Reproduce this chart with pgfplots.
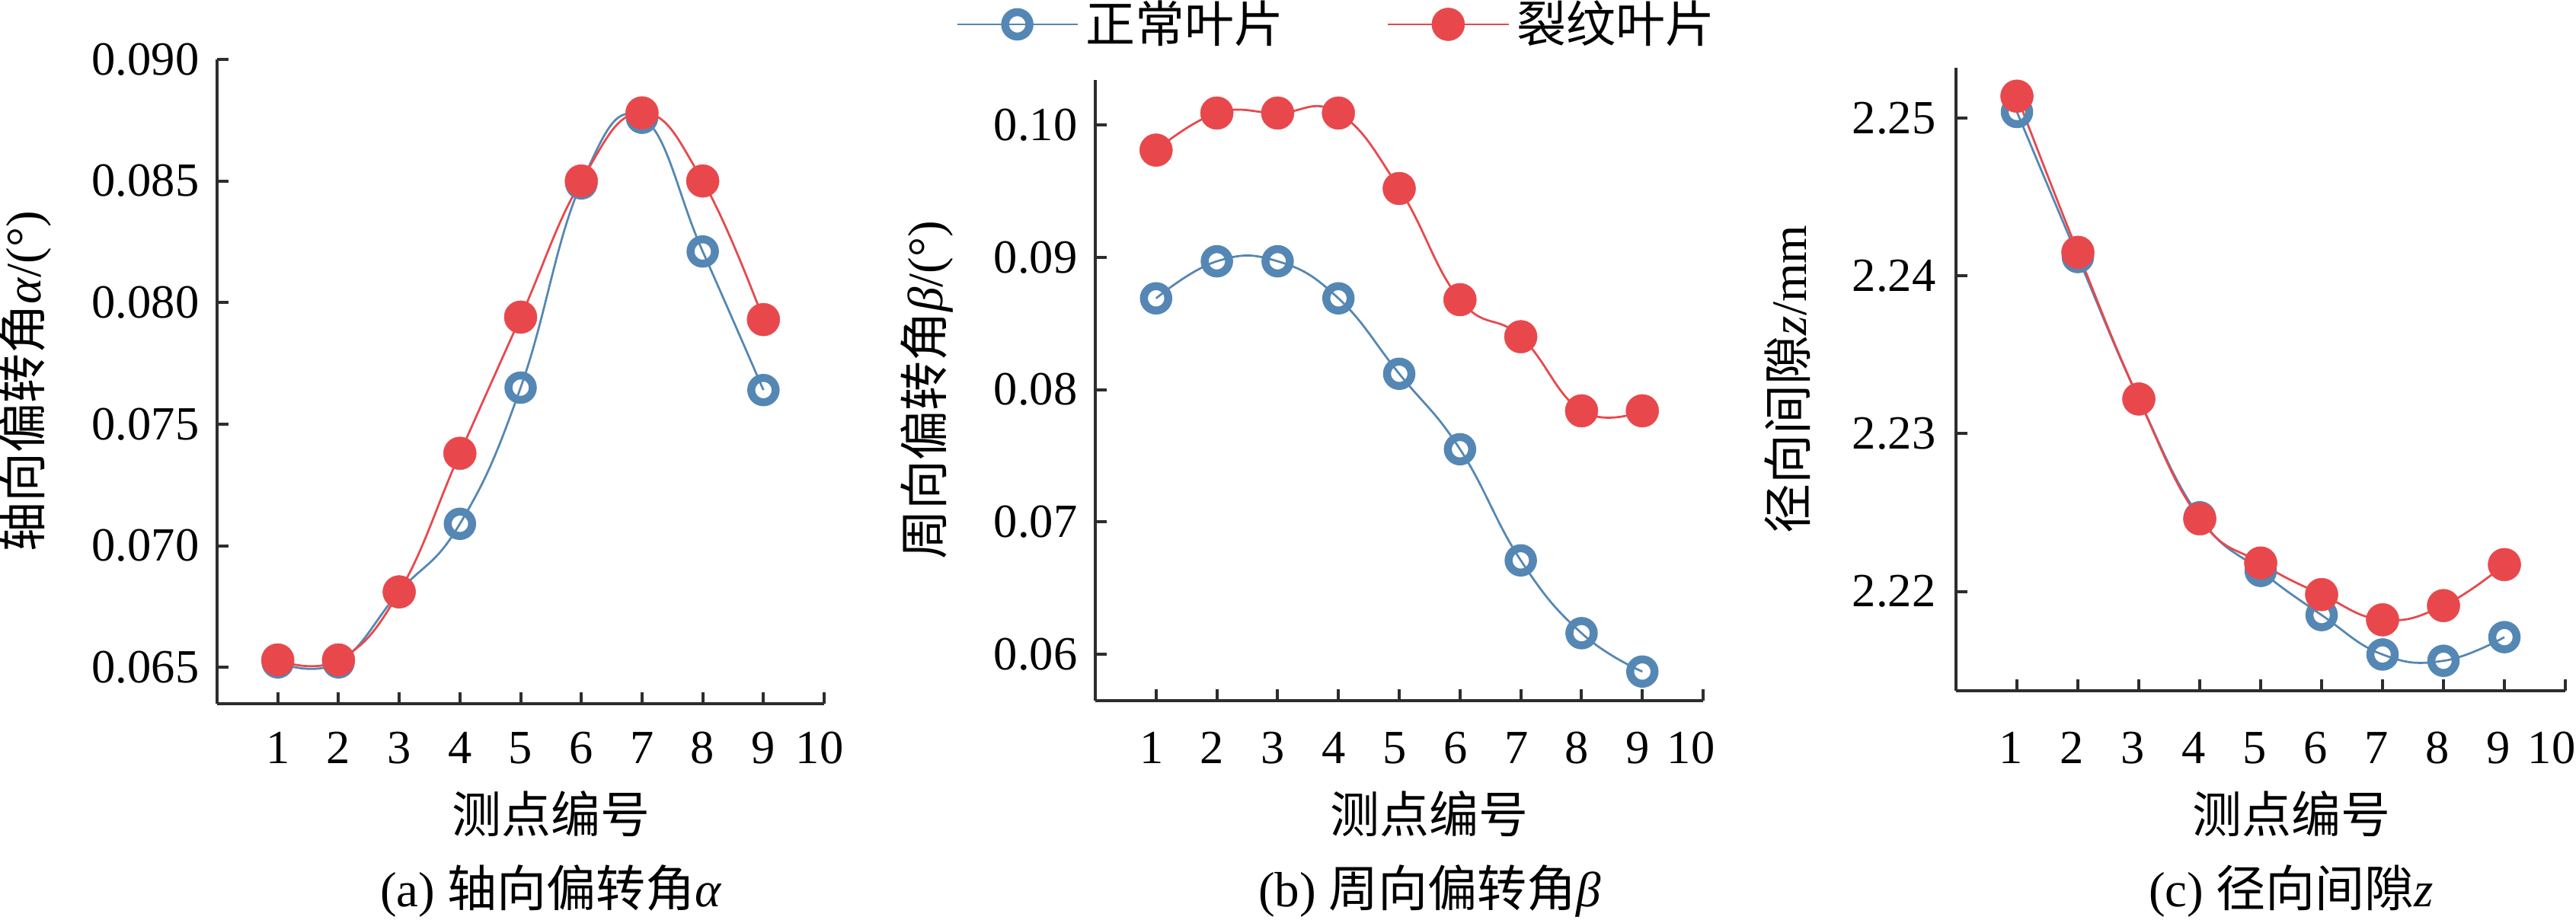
\documentclass[border=0pt]{standalone}
\usepackage{pgfplots}
\pgfplotsset{compat=1.18}
\usepackage{fontspec}
\setmainfont{Liberation Serif}
\newfontfamily\cjk{Noto Sans CJK SC}
\definecolor{cblue}{RGB}{84,135,180}
\definecolor{cred}{RGB}{232,72,76}
\definecolor{axgray}{RGB}{45,45,45}
\newcommand\lbl{\fontsize{13}{15}\selectfont}

\pgfplotsset{
  panel/.style={
    scale only axis,
    axis lines=left,
    axis line style={-, axgray, line width=0.8pt},
    every tick/.style={axgray, line width=0.8pt},
    major tick length=3pt,
    tick align=inside,
    xmin=0, xmax=10,
    xtick={1,2,3,4,5,6,7,8,9},
    extra x ticks={10},
    minor tick num=0,
    scaled y ticks=false,
    clip=false,
    tick label style={font=\fontsize{12.5}{14}\selectfont},
    /pgf/number format/assume math mode=true,
    xticklabel style={anchor=center},
    yticklabel style={anchor=east, xshift=-1.2pt},
  },
  blueline/.style={cblue, line width=0.55pt, smooth, tension=0.75, mark=o, mark size=3.2pt,
    mark options={line width=2.1pt, solid}},
  redline/.style={cred, line width=0.55pt, smooth, tension=0.75, mark=*, mark size=4.3pt,
    mark options={fill=cred, draw=cred, line width=0.1pt, solid}},
}

\begin{document}
\begin{tikzpicture}
\path[use as bounding box] (0,0) rectangle (676.4pt,241.4pt);

% ---------------- (a)
\begin{axis}[panel,
  at={(57pt,56.6pt)}, anchor=south west,
  width=159.4pt, height=169.2pt,
  ymin=0.0635, ymax=0.090,
  ytick={0.065,0.070,0.075,0.080,0.085,0.090},
  yticklabel style={/pgf/number format/fixed, /pgf/number format/fixed zerofill, /pgf/number format/precision=3},
  xticklabel style={yshift=-11.6pt},
  extra x tick style={xticklabel style={xshift=-1.2pt}},
]
\addplot[blueline] coordinates {(1,0.0652)(2,0.0652)(3,0.0681)(4,0.0709)(5,0.0765)(6,0.0849)(7,0.0876)(8,0.0821)(9,0.0764)};
\addplot[redline] coordinates {(1,0.0653)(2,0.0653)(3,0.0681)(4,0.0738)(5,0.0794)(6,0.0850)(7,0.0878)(8,0.0850)(9,0.0793)};
\node[font=\lbl] at ([yshift=-29pt]rel axis cs:0.55,0) {\cjk 测点编号};
\node[font=\lbl] at ([yshift=-49.2pt]rel axis cs:0.55,0) {(a) {\cjk 轴向偏转角}\textit{α}};
\node[font=\lbl, rotate=90] at ([xshift=-50.4pt]rel axis cs:0,0.5) {{\cjk 轴向偏转角}\textit{α}/(°)};
\end{axis}

% ---------------- (b)
\begin{axis}[panel,
  at={(287.6pt,57.4pt)}, anchor=south west,
  width=159.6pt, height=163pt,
  ymin=0.0565, ymax=0.1034,
  ytick={0.06,0.07,0.08,0.09,0.10},
  yticklabel style={/pgf/number format/fixed, /pgf/number format/fixed zerofill, /pgf/number format/precision=2},
  xticklabel style={yshift=-12.4pt, xshift=-1.2pt},
  extra x tick style={xticklabel style={xshift=-2pt}},
  legend columns=2,
  legend style={draw=none, fill=none, at={(0.4016,1.0896)}, anchor=center,
    font=\lbl, inner sep=0pt,
    /tikz/every even column/.append style={column sep=25pt}},
  legend image code/.code={\draw[mark repeat=2,mark phase=2] plot coordinates {(0pt,0pt) (15.8pt,0pt) (31.6pt,0pt)};},
]
\addplot[blueline] coordinates {(1,0.0869)(2,0.0897)(3,0.0897)(4,0.0869)(5,0.0812)(6,0.0755)(7,0.0671)(8,0.0616)(9,0.0587)};
\addlegendentry{\cjk 正常叶片}
\addplot[redline] coordinates {(1,0.0981)(2,0.1009)(3,0.1009)(4,0.1009)(5,0.0952)(6,0.0868)(7,0.0840)(8,0.0784)(9,0.0784)};
\addlegendentry{\cjk 裂纹叶片}
\node[font=\lbl] at ([yshift=-29.8pt]rel axis cs:0.55,0) {\cjk 测点编号};
\node[font=\lbl] at ([yshift=-50pt]rel axis cs:0.55,0) {(b) {\cjk 周向偏转角}\textit{β}};
\node[font=\lbl, rotate=90] at ([xshift=-44.2pt]rel axis cs:0,0.5) {{\cjk 周向偏转角}\textit{β}/(°)};
\end{axis}

% ---------------- (c)
\begin{axis}[panel,
  at={(513.6pt,60pt)}, anchor=south west,
  width=160pt, height=163.6pt,
  ymin=2.2137, ymax=2.2532,
  ytick={2.22,2.23,2.24,2.25},
  yticklabel style={xshift=-0.6pt, /pgf/number format/fixed, /pgf/number format/fixed zerofill, /pgf/number format/precision=2},
  xticklabel style={yshift=-15pt, xshift=-1.6pt},
  extra x tick style={xticklabel style={xshift=-2pt}},
]
\addplot[blueline] coordinates {(1,2.2504)(2,2.2412)(3,2.2322)(4,2.2247)(5,2.2213)(6,2.2185)(7,2.2160)(8,2.2156)(9,2.2171)};
\addplot[redline] coordinates {(1,2.2514)(2,2.2415)(3,2.2322)(4,2.2246)(5,2.2218)(6,2.2198)(7,2.2182)(8,2.2191)(9,2.2217)};
\node[font=\lbl] at ([yshift=-32.4pt]rel axis cs:0.55,0) {\cjk 测点编号};
\node[font=\lbl] at ([yshift=-52.6pt]rel axis cs:0.55,0) {(c) {\cjk 径向间隙}\textit{z}};
\node[font=\lbl, rotate=90] at ([xshift=-44.3pt]rel axis cs:0,0.5) {{\cjk 径向间隙}\textit{z}/mm};
\end{axis}
\end{tikzpicture}
\end{document}
